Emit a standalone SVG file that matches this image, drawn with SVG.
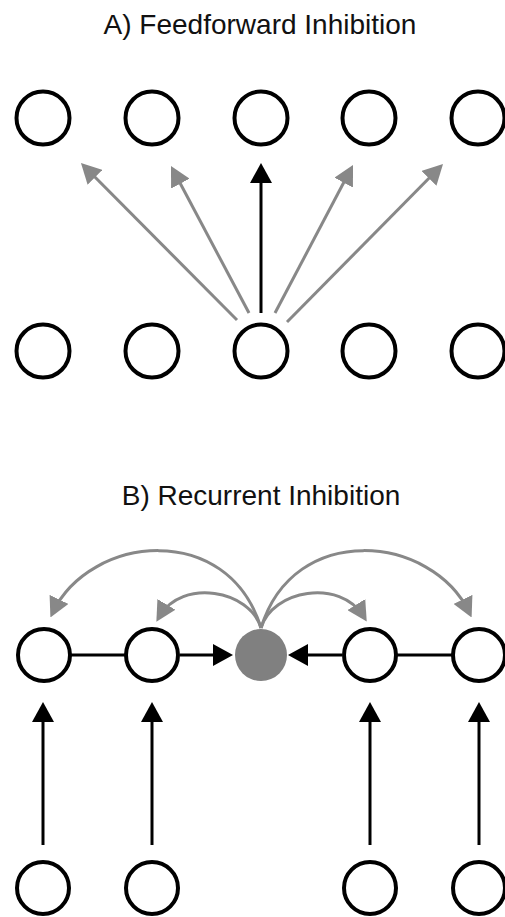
<svg xmlns="http://www.w3.org/2000/svg" width="505" height="917" viewBox="0 0 505 917">
<style>
.title{font-family:"Liberation Sans",Arial,sans-serif;font-size:28px;fill:#111;text-anchor:middle}
.n{fill:#fff;stroke:#000;stroke-width:4}
.inh{fill:#808080;stroke:none}
.blk{fill:none;stroke:#000;stroke-width:3}
.gry{fill:none;stroke:#888;stroke-width:3}
</style>
<defs>
<marker id="ab" markerUnits="userSpaceOnUse" markerWidth="20" markerHeight="22" viewBox="0 0 20 22" refX="14" refY="11" orient="auto"><path d="M0,0 L20,11 L0,22 z" fill="#000"/></marker>
<marker id="ag" markerUnits="userSpaceOnUse" markerWidth="20" markerHeight="21" viewBox="0 0 20 21" refX="14" refY="10.5" orient="auto"><path d="M0,0 L20,10.5 L0,21 z" fill="#888"/></marker>
</defs>
<text class="title" x="260" y="34">A) Feedforward Inhibition</text>
<text class="title" x="261" y="505">B) Recurrent Inhibition</text>
<g id="connectors">
<line class="gry" x1="237" y1="320" x2="85.2" y2="167.3" marker-end="url(#ag)"/>
<line class="gry" x1="249" y1="313" x2="173.8" y2="171.3" marker-end="url(#ag)"/>
<line class="blk" x1="261" y1="313" x2="261" y2="169" marker-end="url(#ab)"/>
<line class="gry" x1="275" y1="313" x2="350.2" y2="170.3" marker-end="url(#ag)"/>
<line class="gry" x1="287" y1="322" x2="438.8" y2="168.3" marker-end="url(#ag)"/>
<line class="blk" x1="44" y1="655" x2="152" y2="655"/>
<line class="blk" x1="370" y1="655" x2="479" y2="655"/>
<line class="blk" x1="180" y1="655" x2="227" y2="655" marker-end="url(#ab)"/>
<line class="blk" x1="342" y1="655" x2="294" y2="655" marker-end="url(#ab)"/>
<line class="blk" x1="43" y1="845" x2="43" y2="708" marker-end="url(#ab)"/>
<line class="blk" x1="152" y1="845" x2="152" y2="708" marker-end="url(#ab)"/>
<line class="blk" x1="370" y1="845" x2="370" y2="708" marker-end="url(#ab)"/>
<line class="blk" x1="479" y1="845" x2="479" y2="708" marker-end="url(#ab)"/>
<path class="gry" d="M261,628 C228,520 90,535 53,612" marker-end="url(#ag)"/>
<path class="gry" d="M261,628 C250,590 182,578 159.4,616.5" marker-end="url(#ag)"/>
<path class="gry" d="M261,628 C294,520 432,535 469,612" marker-end="url(#ag)"/>
<path class="gry" d="M261,628 C272,590 340,578 363.6,616.5" marker-end="url(#ag)"/>
</g>
<g id="a-top">
<circle class="n" cx="43" cy="118" r="26.5"/>
<circle class="n" cx="152" cy="118" r="26.5"/>
<circle class="n" cx="261" cy="118" r="26.5"/>
<circle class="n" cx="369" cy="118" r="26.5"/>
<circle class="n" cx="478" cy="118" r="26.5"/>
</g>
<g id="a-bottom">
<circle class="n" cx="43" cy="351" r="26.5"/>
<circle class="n" cx="152" cy="351" r="26.5"/>
<circle class="n" cx="261" cy="351" r="26.5"/>
<circle class="n" cx="369" cy="351" r="26.5"/>
<circle class="n" cx="478" cy="351" r="26.5"/>
</g>
<g id="b-middle">
<circle class="n" cx="44" cy="655" r="26"/>
<circle class="n" cx="152" cy="655" r="26"/>
<circle class="inh" cx="261" cy="655" r="26"/>
<circle class="n" cx="370" cy="655" r="26"/>
<circle class="n" cx="479" cy="655" r="26"/>
</g>
<g id="b-bottom">
<circle class="n" cx="43" cy="888" r="26"/>
<circle class="n" cx="152" cy="888" r="26"/>
<circle class="n" cx="370" cy="888" r="26"/>
<circle class="n" cx="479" cy="888" r="26"/>
</g>
</svg>
